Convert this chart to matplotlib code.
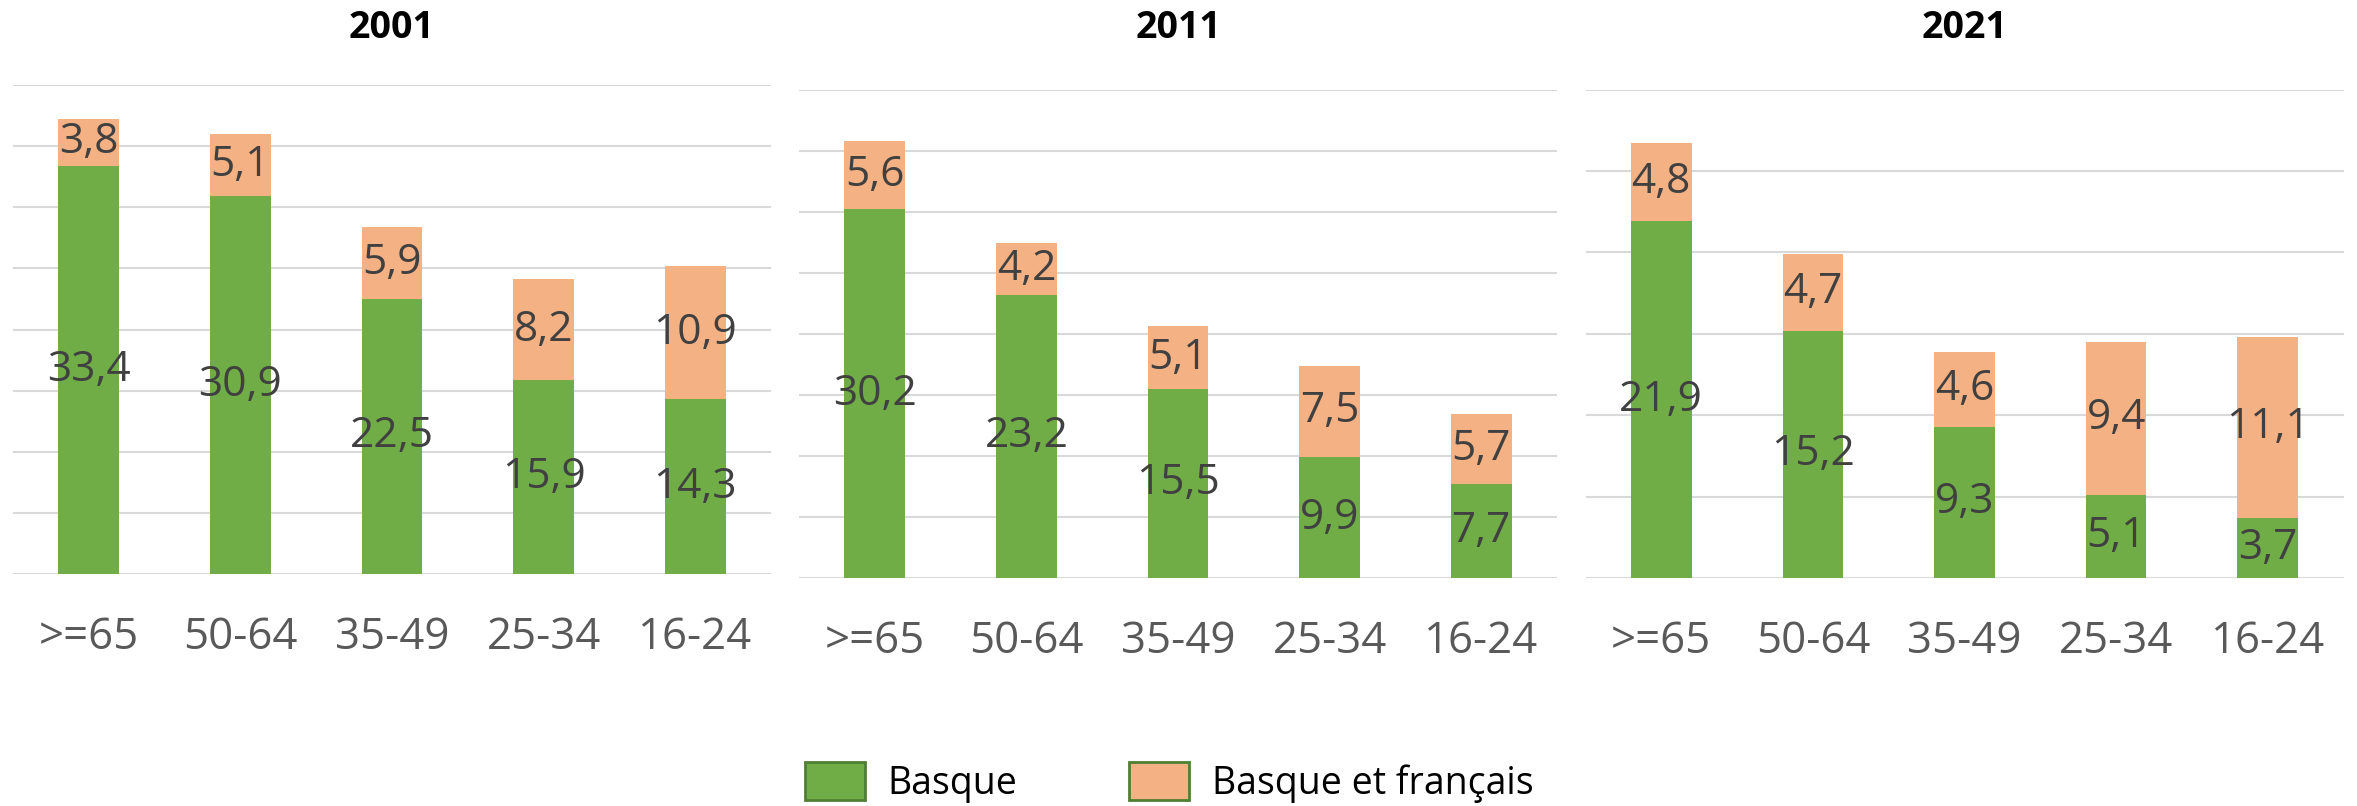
import matplotlib.pyplot as plt
from matplotlib.patches import Patch

# données
ages = [">=65", "50-64", "35-49", "25-34", "16-24"]
years = ["2001", "2011", "2021"]
basque_2001 = [33.4, 30.9, 22.5, 15.9, 14.3]
mixte_2001 = [3.8, 5.1, 5.9, 8.2, 10.9]
basque_2011 = [30.2, 23.2, 15.5, 9.9, 7.7]
mixte_2011 = [5.6, 4.2, 5.1, 7.5, 5.7]
basque_2021 = [21.9, 15.2, 9.3, 5.1, 3.7]
mixte_2021 = [4.8, 4.7, 4.6, 9.4, 11.1]
ymax = [40, 40, 30]

vert = "#70AD47"
orange = "#F4B183"
plt.rcParams['font.family'] = ['Open Sans', 'DejaVu Sans']

fig = plt.figure(figsize=(23.57, 8.06), dpi=100)
W, H = 2357, 806
# (gauche, base, haut de la grille) en pixels
cadres = [(13, 574, 85), (799, 578, 89.6), (1585.5, 578, 89.6)]
series = [(basque_2001, mixte_2001), (basque_2011, mixte_2011), (basque_2021, mixte_2021)]

def fmt(v):
    return str(v).replace(".", ",")

for i, (x0, yb, yt) in enumerate(cadres):
    ax = fig.add_axes([x0 / W, 1 - yb / H, 758 / W, (yb - yt) / H])
    b, m = series[i]
    x = range(len(ages))
    r1 = ax.bar(x, b, width=0.4, color=vert, zorder=3)
    r2 = ax.bar(x, m, width=0.4, bottom=b, color=orange, zorder=3)
    ax.bar_label(r1, labels=[fmt(v) for v in b], label_type='center',
                 fontsize=30.5, color="#404040")
    ax.bar_label(r2, labels=[fmt(v) for v in m], label_type='center',
                 fontsize=30.5, color="#404040")
    ax.set_xlim(-0.5, 4.5)
    ax.set_ylim(0, ymax[i])
    ax.set_yticks(range(0, ymax[i] + 1, 5))
    ax.set_yticklabels([])
    ax.tick_params(axis='y', length=0)
    ax.set_xticks(list(x))
    ax.set_xticklabels(ages, fontsize=31.5, color="#595959")
    ax.tick_params(axis='x', length=0, pad=30)
    ax.grid(axis='y', color="#D9D9D9", linewidth=1.5, zorder=0)
    ax.set_axisbelow(True)
    for s in ax.spines.values():
        s.set_visible(False)
    fig.text((x0 + 379) / W, 1 - 28 / H, years[i], ha='center', va='center',
             fontsize=27, fontweight='bold', color='black')

handles = [Patch(facecolor=vert, edgecolor="#507E32", linewidth=2),
           Patch(facecolor=orange, edgecolor="#507E32", linewidth=2)]
fig.legend(handles, ["Basque", "Basque et français"], loc='center',
           bbox_to_anchor=(0.496, 0.029), ncol=2, frameon=False, fontsize=27,
           handlelength=1.6, handleheight=1.15, handletextpad=0.6,
           columnspacing=3.0)

fig.savefig("out.png", dpi=100)
